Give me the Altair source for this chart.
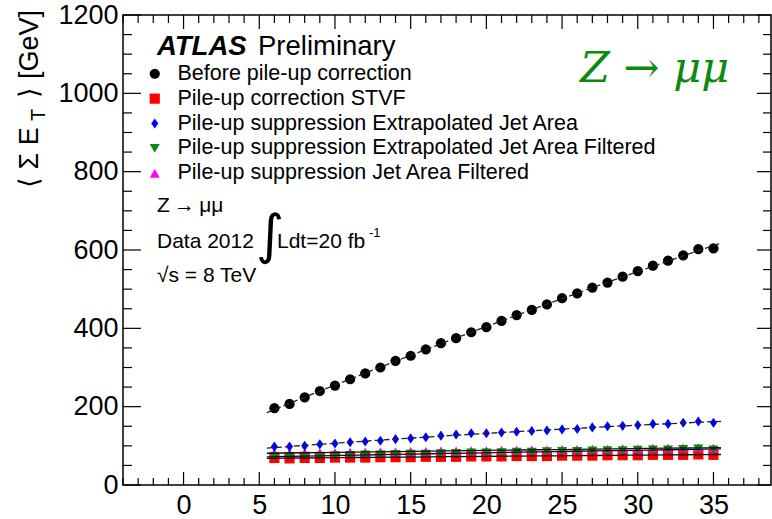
import altair as alt
import pandas as pd

# ---------------- data ----------------
pileup = list(range(6, 36))
before = [196, 207, 224, 240, 254, 270, 285, 300, 317, 330, 346, 362, 375, 390, 403,
          419, 434, 447, 461, 477, 489, 504, 517, 532, 546, 560, 573, 586, 602, 604]
stvf = [69, 68, 69, 69, 70, 70, 70, 71, 71, 71, 72, 72, 72, 73, 73,
        73, 74, 74, 74, 75, 75, 75, 76, 76, 76, 77, 77, 77, 78, 77]
ext_area = [98, 98, 100, 104, 106, 109, 111, 113, 117, 119, 122, 126, 129, 132, 132,
            134, 136, 138, 139, 142, 143, 147, 150, 151, 153, 156, 156, 159, 162, 159]
ext_area_filt = [73, 73, 74, 74, 75, 76, 77, 77, 78, 79, 79, 80, 81, 82, 82,
                 83, 84, 84, 85, 86, 86, 87, 88, 88, 89, 90, 90, 91, 92, 90]
area_filt = [82, 82, 82, 83, 83, 84, 84, 85, 85, 86, 86, 87, 87, 88, 88,
             89, 89, 90, 90, 91, 91, 92, 92, 93, 93, 94, 94, 95, 95, 94]

series_names = [
    "Before pile-up correction",
    "Pile-up correction STVF",
    "Pile-up suppression Extrapolated Jet Area",
    "Pile-up suppression Extrapolated Jet Area Filtered",
    "Pile-up suppression Jet Area Filtered",
]
series_values = [before, stvf, ext_area, ext_area_filt, area_filt]
series_colors = ["#000000", "#ff0000", "#0000ff", "#0b8a0b", "#ff00ff"]
diamond = "M0,-1L0.7,0L0,1L-0.7,0Z"
series_shapes = ["circle", "square", diamond, "triangle-down", "triangle-up"]
series_sizes = [105, 100, 100, 150, 130]
draw_order = [0, 1, 4, 3, 2]
dashed_series = [series_names[0], series_names[2]]

x_major = [0, 5, 10, 15, 20, 25, 30, 35]
x_minor = [v for v in range(-4, 39) if v % 5 != 0]
y_major = [0, 200, 400, 600, 800, 1000, 1200]
y_minor = [v for v in range(50, 1200, 50) if v % 200 != 0]

rows = []
for name, vals, z in zip(series_names, series_values, draw_order):
    for mu, v in zip(pileup, vals):
        rows.append({"mu": mu, "et": v, "series": name, "z": z})
df = pd.DataFrame(rows)

# ---------------- layout ----------------
FONT = "Liberation Sans"
W, H = 648, 470
xscale = alt.Scale(domain=[-4, 38.8], nice=False, zero=False)
yscale = alt.Scale(domain=[0, 1200], nice=False, zero=False)
xaxis = alt.Axis(values=x_major, title=None, grid=False, ticks=False, domain=False, format="d",
                 labelFontSize=27, labelFont=FONT, labelPadding=7, labelColor="black",
                 labelFlush=False)
yaxis = alt.Axis(values=y_major, title=None, grid=False, ticks=False, domain=False, format="d",
                 labelFontSize=27, labelFont=FONT, labelPadding=5, labelColor="black",
                 labelFlush=False)
one = pd.DataFrame({"a": [0]})


def ticks_x(vals, y0, y1):
    return alt.Chart(pd.DataFrame({"mu": vals})).mark_rule(color="black", strokeWidth=1.2).encode(
        x=alt.X("mu:Q", scale=xscale, axis=xaxis), y=alt.value(y0), y2=alt.value(y1))


def ticks_y(vals, x0, x1):
    return alt.Chart(pd.DataFrame({"et": vals})).mark_rule(color="black", strokeWidth=1.2).encode(
        y=alt.Y("et:Q", scale=yscale, axis=yaxis), x=alt.value(x0), x2=alt.value(x1))


tick_layers = [
    ticks_x(x_major, H, H - 13), ticks_x(x_minor, H, H - 7),
    ticks_x(x_major, 0, 14), ticks_x(x_minor, 0, 8),
    ticks_y(y_major, 0, 18), ticks_y(y_minor, 0, 9),
    ticks_y(y_major, W, W - 14), ticks_y(y_minor, W, W - 8),
]

leg = alt.Legend(title=None, orient="none", legendX=21, legendY=48, labelFontSize=21.5,
                 labelFont=FONT, labelColor="black", symbolSize=110, rowPadding=1.9,
                 labelOffset=12, padding=0, symbolStrokeWidth=0, labelLimit=700)

points = alt.Chart(df).mark_point(filled=True, opacity=1).encode(
    x=alt.X("mu:Q", scale=xscale, axis=xaxis),
    y=alt.Y("et:Q", scale=yscale, axis=yaxis),
    color=alt.Color("series:N", scale=alt.Scale(domain=series_names, range=series_colors), legend=leg),
    shape=alt.Shape("series:N", scale=alt.Scale(domain=series_names, range=series_shapes), legend=leg),
    size=alt.Size("series:O", scale=alt.Scale(domain=series_names, range=series_sizes), legend=None),
    order=alt.Order("z:Q"),
)

fit = alt.Chart(df).transform_regression("mu", "et", groupby=["series"], method="poly", order=2,
                                         extent=[5.5, 35.5])
fit_dashed = fit.transform_filter(alt.FieldOneOfPredicate(field="series", oneOf=dashed_series)).mark_line(
    color="#222222", strokeWidth=1.3, strokeDash=[6, 3]).encode(
    x=alt.X("mu:Q", scale=xscale, axis=xaxis), y=alt.Y("et:Q", scale=yscale, axis=yaxis),
    detail="series:N")
fit_solid = fit.transform_filter(
    alt.LogicalNotPredicate(**{"not": alt.FieldOneOfPredicate(field="series", oneOf=dashed_series)})
).mark_line(color="#111111", strokeWidth=1.3).encode(
    x=alt.X("mu:Q", scale=xscale, axis=xaxis), y=alt.Y("et:Q", scale=yscale, axis=yaxis),
    detail="series:N")


def txt(s, x, y, size, align="left", baseline="alphabetic", font=FONT, color="black", angle=0, **kw):
    return alt.Chart(one).mark_text(text=s, fontSize=size, font=font, align=align, baseline=baseline,
                                    color=color, angle=angle, **kw).encode(x=alt.value(x), y=alt.value(y))


texts = [
    # y axis title, rotated
    txt("\u27e8 \u03a3 E", -85, 173, 27, align="left", angle=270),
    txt("T", -78, 106, 20, align="left", angle=270),
    txt("\u27e9 [GeV]", -85, -5, 27, align="right", angle=270),
    # ATLAS label
    txt("ATLAS", 34, 40, 27.5, fontWeight="bold", fontStyle="italic"),
    txt("Preliminary", 135, 40, 27.5),
    # big green process label
    txt("Z \u2192 \u03bc\u03bc", 457, 67, 43, font="DejaVu Serif", fontStyle="italic", color="#0b8a0b"),
    # info block
    txt("Z\u2009\u2192\u2009\u03bc\u03bc", 34, 197, 21),
    txt("Data 2012", 34, 233, 21),
    txt("\u222b", 147, 222, 54, align="center", baseline="middle", font="DejaVu Sans"),
    txt("Ldt=20 fb", 154, 233, 21),
    txt("-1", 246, 222, 13),
    txt("\u221as = 8 TeV", 34, 267, 21),
]

chart = alt.layer(*tick_layers, points, fit_dashed, fit_solid, *texts).properties(
    width=W, height=H,
    padding={"left": 123, "top": 15, "right": 1, "bottom": 34},
    autosize=alt.AutoSizeParams(type="none"),
).configure_view(stroke="black", strokeWidth=1.5)

chart.save("out.html", embed_options={"renderer": "svg", "actions": False})
